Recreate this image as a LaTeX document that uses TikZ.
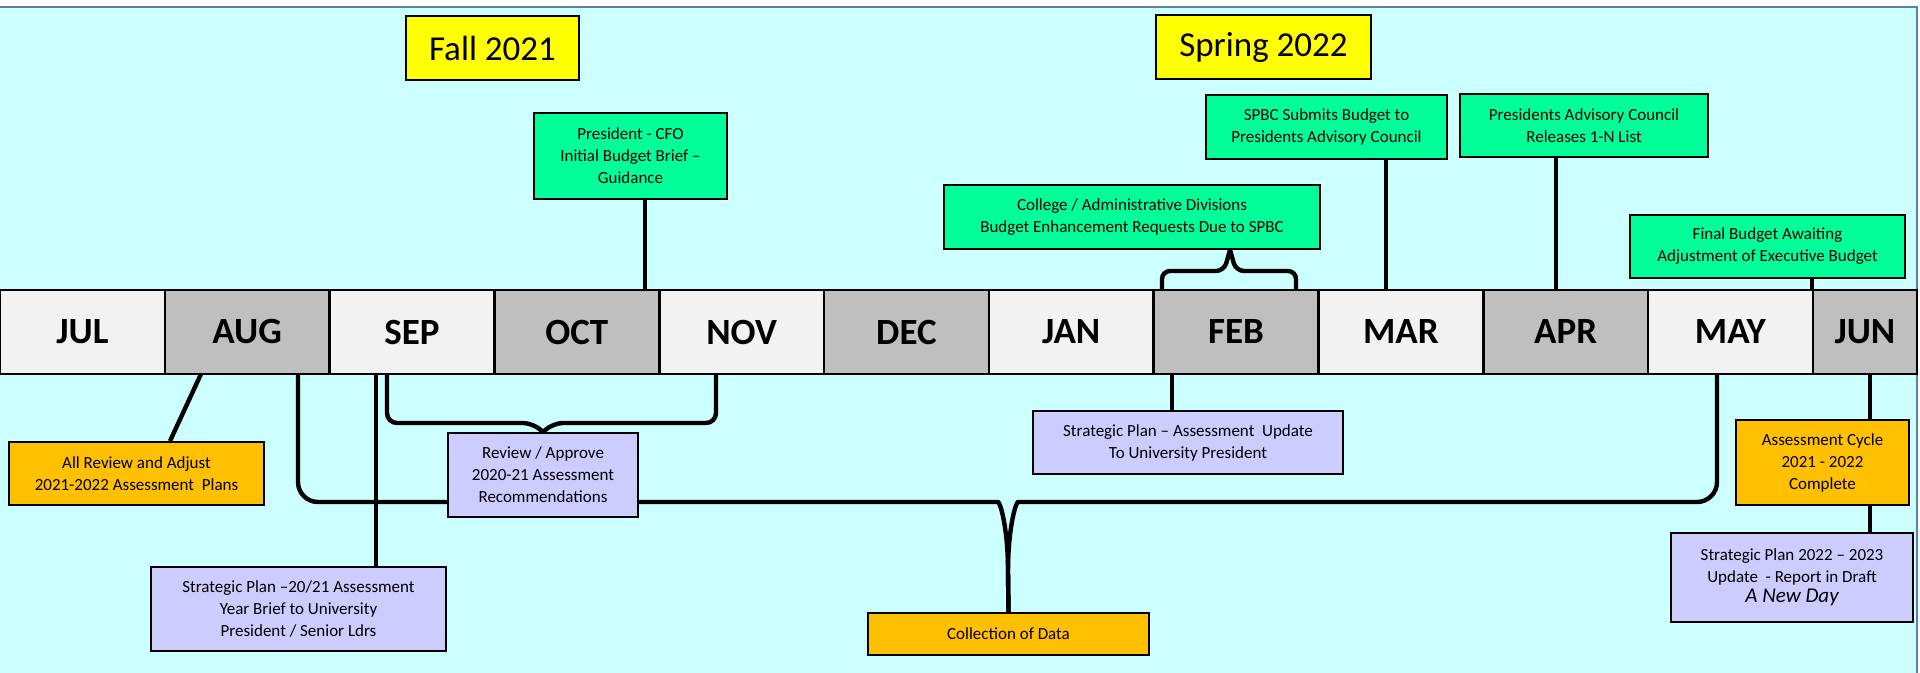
\documentclass[tikz,border=0pt]{standalone}
\usepackage{fontspec}
\setmainfont{Carlito}
\usepackage{xcolor}
\usepackage{tikz}
\usetikzlibrary{positioning, calc}

\definecolor{bgcyan}{HTML}{CCFFFF}
\definecolor{frameblue}{HTML}{5B7FA8}
\definecolor{monthlight}{HTML}{F2F2F2}
\definecolor{monthdark}{HTML}{BFBFBF}
\definecolor{seasonyellow}{HTML}{FFFF00}
\definecolor{boxgreen}{HTML}{00FF99}
\definecolor{boxorange}{HTML}{FFC000}
\definecolor{boxlav}{HTML}{CCCCFF}

\pgfdeclarelayer{back}
\pgfdeclarelayer{lines}
\pgfsetlayers{back,lines,main}

\begin{document}
\begin{tikzpicture}[x=0.5pt,y=-0.5pt,
    month/.style={draw,line width=1.3pt,fill=monthlight,minimum width=82.4pt,minimum height=42pt,
      inner sep=0pt,outer sep=0pt,font=\fontsize{18.5}{22}\selectfont\bfseries},
    season/.style={draw,line width=1.4pt,fill=seasonyellow,inner sep=0pt,font=\fontsize{17.5}{21}\selectfont},
    evbox/.style={draw,line width=0.9pt,inner sep=0pt,align=center,font=\fontsize{8.5}{11}\selectfont},
    budget/.style={evbox,fill=boxgreen},
    assess/.style={evbox,fill=boxorange},
    report/.style={evbox,fill=boxlav},
    link/.style={line width=2.2pt}]
    \useasboundingbox (0,0) rectangle (1920,673);
    \begin{pgfonlayer}{back}
      \fill[white] (0,0) rectangle (1920,673);
      \fill[bgcyan] (0,7) rectangle (1917,673);
      \draw[frameblue,line width=1pt] (0,7) -- (1917,7) -- (1917,673);
    \end{pgfonlayer}

    % month bar
    \node[month,anchor=north west] (jul) at (0,290) {JUL};
    \node[month,fill=monthdark,right=0pt of jul] (aug) {AUG};
    \node[month,right=0pt of aug] (sep) {SEP};
    \node[month,fill=monthdark,right=0pt of sep] (oct) {OCT};
    \node[month,right=0pt of oct] (nov) {NOV};
    \node[month,fill=monthdark,right=0pt of nov] (dec) {DEC};
    \node[month,right=0pt of dec] (jan) {JAN};
    \node[month,fill=monthdark,right=0pt of jan] (feb) {FEB};
    \node[month,right=0pt of feb] (mar) {MAR};
    \node[month,fill=monthdark,right=0pt of mar] (apr) {APR};
    \node[month,right=0pt of apr] (may) {MAY};
    \node[month,fill=monthdark,right=0pt of may,minimum width=52.1pt] (jun) {JUN};

    % seasons
    \node[season,minimum width=86.5pt,minimum height=32pt] (fall) at (492.5,48) {Fall 2021};
    \node[season,minimum width=107.5pt,minimum height=32pt] (spring) at (1263.5,47) {Spring 2022};

    % budget events above the bar
    \node[budget,minimum width=96.5pt,minimum height=43pt] (cfo) at (630.5,156)
        {President - CFO\\Initial Budget Brief –\\Guidance};
    \node[budget,minimum width=120.5pt,minimum height=32pt] (spbc) at (1326.5,127)
        {SPBC Submits Budget to\\Presidents Advisory Council};
    \node[budget,minimum width=124pt,minimum height=31.5pt] (pac) at (1584,125.5)
        {Presidents Advisory Council\\Releases 1-N List};
    \node[budget,minimum width=188pt,minimum height=32pt] (college) at (1132,217)
        {College / Administrative Divisions\\Budget Enhancement Requests Due to SPBC};
    \node[budget,minimum width=137.5pt,minimum height=31.5pt] (final) at (1767.5,246.5)
        {Final Budget Awaiting\\Adjustment of Executive Budget};

    % assessment events below the bar
    \node[assess,minimum width=127.5pt,minimum height=31.5pt] (allrev) at (136.5,473.5)
        {All Review and Adjust\\2021-2022 Assessment\ \ Plans};
    \node[report,minimum width=95pt,minimum height=42pt] (review) at (543,475)
        {Review / Approve\\2020-21 Assessment\\Recommendations};
    \node[report,minimum width=147.5pt,minimum height=42pt] (strat1) at (298.5,609)
        {Strategic Plan –20/21 Assessment\\Year Brief to University\\President / Senior Ldrs};
    \node[report,minimum width=155pt,minimum height=31.5pt] (stratupd) at (1188,442.5)
        {Strategic Plan – Assessment\ \ Update\\To University President};
    \node[assess,minimum width=140.5pt,minimum height=21pt] (collect) at (1008.5,634) {Collection of Data};
    \node[assess,minimum width=86.5pt,minimum height=42.5pt] (cycle) at (1822.5,462.5)
        {Assessment Cycle\\2021 - 2022\\Complete};
    \node[report,minimum width=121pt,minimum height=44.5pt] (strat22) at (1792,577.5)
        {Strategic Plan 2022 – 2023\\Update\ \ - Report in Draft\\[-1pt]{\fontsize{10.5}{13}\selectfont\itshape A New Day}};

    % tick points on the bar
    \coordinate (t1) at (645,290);
    \coordinate (t2) at (1386,290);
    \coordinate (t3) at (1556,290);
    \coordinate (t4) at (1812,290);
    \coordinate (t5) at (201,374);
    \coordinate (t6) at (376,374);
    \coordinate (t7) at (1172,374);
    \coordinate (t8) at (1870,374);
    \coordinate (b1) at (298,374);
    \coordinate (b2) at (1717,374);
    \coordinate (r1) at (387,374);
    \coordinate (r2) at (716,374);
    \coordinate (c1) at (1162,290);
    \coordinate (c2) at (1296,290);
    \coordinate (cb) at (1230,271);
    \coordinate (rmid) at (543,423);
    \coordinate (cmid) at (1008,502);

    \begin{pgfonlayer}{lines}
    \draw[link] (cfo.south -| t1) -- (t1);
    \draw[link] (spbc.south -| t2) -- (t2);
    \draw[link] (pac.south -| t3) -- (t3);
    \draw[link] (final.south -| t4) -- (t4);
    \draw[link] (t5) -- ([xshift=16.75pt]allrev.north);
    \draw[link] (t6) -- (strat1.north -| t6);
    \draw[link] (t7) -- (stratupd.north -| t7);
    \draw[link] (t8) -- (cycle.north -| t8);
    \draw[link] (cycle.south -| t8) -- (strat22.north -| t8);

    % braces
    \draw[link,rounded corners=4pt] (c1) |- ($(cb)+(-6,0)$) -- (college.south -| cb);
    \draw[link,rounded corners=4pt] (c2) |- ($(cb)+(6,0)$) -- (college.south -| cb);
    \draw[link,rounded corners=5pt] (r1) |- ($(rmid)+(-10,0)$) -- (review.north);
    \draw[link,rounded corners=5pt] (r2) |- ($(rmid)+(10,0)$) -- (review.north);
    \draw[link] (b1) [rounded corners=10pt] |- ($(cmid)+(-30,0)$) [sharp corners]
        .. controls ($(cmid)+(-8,0)$) and ($(cmid)+(0,25)$) .. ($(cmid)+(0,70)$) -- (collect.north);
    \draw[link] (b2) [rounded corners=10pt] |- ($(cmid)+(30,0)$) [sharp corners]
        .. controls ($(cmid)+(8,0)$) and ($(cmid)+(0,25)$) .. ($(cmid)+(0,70)$) -- (collect.north);
    \end{pgfonlayer}
\end{tikzpicture}
\end{document}
